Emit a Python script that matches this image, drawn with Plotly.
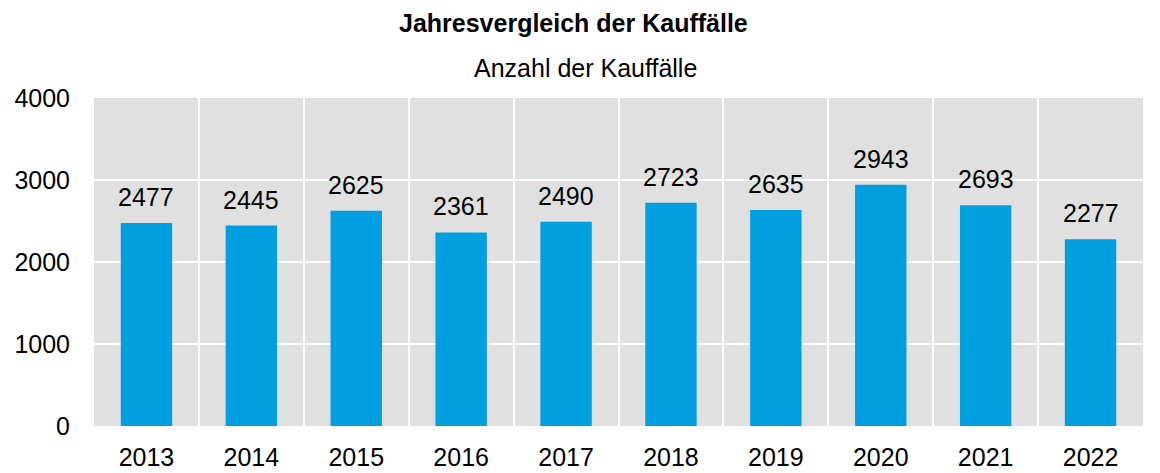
import plotly.graph_objects as go

years = ["2013", "2014", "2015", "2016", "2017", "2018", "2019", "2020", "2021", "2022"]
counts = [2477, 2445, 2625, 2361, 2490, 2723, 2635, 2943, 2693, 2277]
y_ticks = [0, 1000, 2000, 3000, 4000]

FONT = "Liberation Sans, Arial, sans-serif"

fig = go.Figure()
fig.add_trace(go.Bar(
    x=years, y=counts, width=0.49,
    marker=dict(color="#009fe0", line=dict(width=0)),
    hoverinfo="x+y",
))

for i, v in enumerate(counts):
    fig.add_annotation(x=i, y=v, text=str(v), showarrow=False,
                       yanchor="middle", yshift=26,
                       font=dict(family=FONT, size=25, color="#000"))

fig.add_annotation(xref="paper", yref="paper", x=0.457, y=1, yshift=75,
                   text="<b>Jahresvergleich der Kauffälle</b>", showarrow=False,
                   yanchor="middle", font=dict(family=FONT, size=25, color="#000"))
fig.add_annotation(xref="paper", yref="paper", x=0.469, y=1, yshift=30,
                   text="Anzahl der Kauffälle", showarrow=False,
                   yanchor="middle", font=dict(family=FONT, size=25, color="#000"))

# page body has an 8px margin, so the figure is 8px smaller in each direction
fig.update_layout(
    width=1152, height=465,
    margin=dict(l=86, r=17, t=90, b=47, autoexpand=False),
    paper_bgcolor="white", plot_bgcolor="#e0e0e0",
    font=dict(family=FONT, size=25, color="#000"),
    showlegend=False,
    bargap=0.51,
)
fig.update_xaxes(type="category", range=[-0.5, len(years) - 0.5],
                 tickson="boundaries", showgrid=True,
                 gridcolor="white", gridwidth=2, ticks="", ticklen=0,
                 ticklabelstandoff=14, zeroline=False, showline=False,
                 tickangle=0, tickfont=dict(size=25))
fig.update_yaxes(range=[0, 4000], tickvals=y_ticks, showgrid=True,
                 gridcolor="white", gridwidth=2, zeroline=False,
                 ticklabelstandoff=23, tickfont=dict(size=25))

fig.write_html("out.html")
